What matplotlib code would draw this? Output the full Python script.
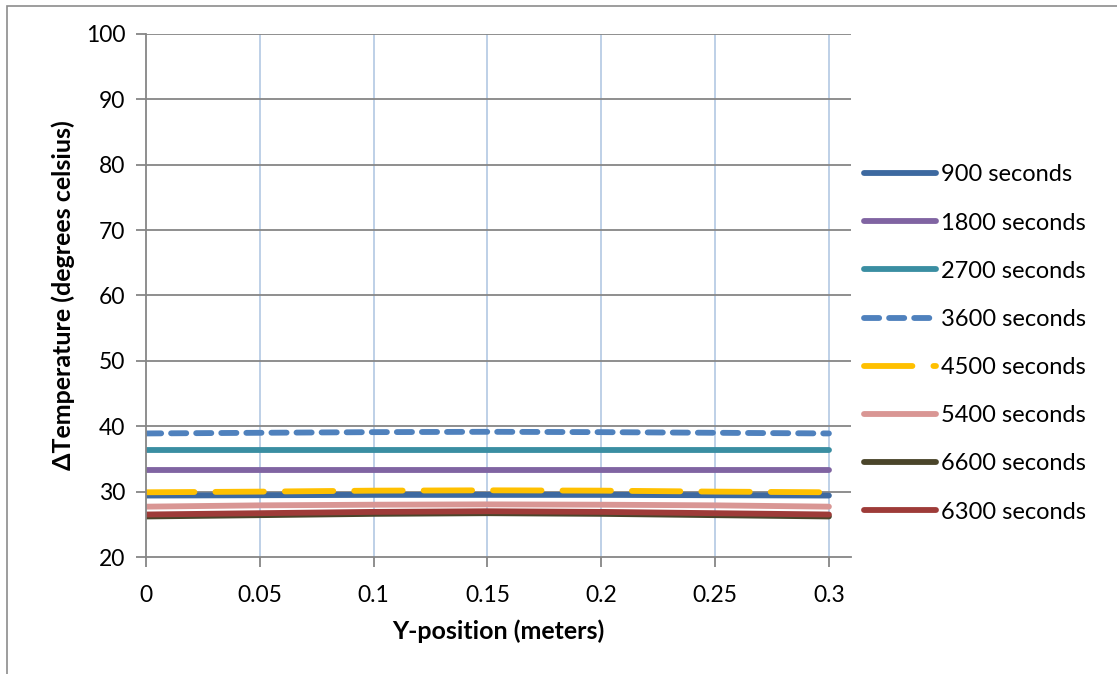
import matplotlib
matplotlib.use("Agg")
import matplotlib.pyplot as plt
from matplotlib.patches import Rectangle

plt.rcParams["font.family"] = ["Lato", "DejaVu Sans"]

# -----------------------------
# Data
# -----------------------------
y_position = [0.0, 0.05, 0.10, 0.15, 0.20, 0.25, 0.30]

temp_900 = [29.4, 29.45, 29.5, 29.5, 29.5, 29.45, 29.4]
temp_1800 = [33.3, 33.3, 33.3, 33.3, 33.3, 33.3, 33.3]
temp_2700 = [36.3, 36.3, 36.3, 36.3, 36.3, 36.3, 36.3]
temp_3600 = [38.9, 39.0, 39.1, 39.15, 39.1, 39.0, 38.9]
temp_4500 = [29.9, 30.0, 30.15, 30.2, 30.15, 30.0, 29.9]
temp_5400 = [27.7, 27.9, 28.0, 28.05, 28.0, 27.9, 27.7]
temp_6600 = [26.2, 26.4, 26.6, 26.7, 26.6, 26.4, 26.2]
temp_6300 = [26.5, 26.7, 26.9, 27.0, 26.9, 26.7, 26.5]

labels = ["900 seconds", "1800 seconds", "2700 seconds", "3600 seconds",
          "4500 seconds", "5400 seconds", "6600 seconds", "6300 seconds"]
series = [temp_900, temp_1800, temp_2700, temp_3600,
          temp_4500, temp_5400, temp_6600, temp_6300]
colors = ["#3D69A0", "#8064A2", "#3A8EA2", "#4F81BD",
          "#FFC000", "#D99694", "#4A452A", "#9E3B38"]
dashes = [None, None, None, (2.6, 1.7), (8.3, 3.6), None, None, None]

x_ticks = [0, 0.05, 0.1, 0.15, 0.2, 0.25, 0.3]
x_tick_labels = ["0", "0.05", "0.1", "0.15", "0.2", "0.25", "0.3"]
y_ticks = [20, 30, 40, 50, 60, 70, 80, 90, 100]

# -----------------------------
# Figure
# -----------------------------
fig = plt.figure(figsize=(11.17, 6.74), dpi=100)
ax = fig.add_axes([146 / 1117, 1 - 557 / 674, (851 - 146) / 1117, (557 - 34) / 674])

# outer chart frame (cropped on the right and bottom)
fig.patches.append(Rectangle((6.5 / 1117, -0.1), 1.2, 1 - 5.5 / 674 + 0.1,
                             transform=fig.transFigure, fill=False,
                             edgecolor="#8c8c8c", linewidth=1.2))

for vals, lab, col, ds in zip(series, labels, colors, dashes):
    line, = ax.plot(y_position, vals, color=col, linewidth=4.2, label=lab,
                    solid_capstyle="round", dash_capstyle="round")
    if ds is not None:
        line.set_dashes(ds)

ax.set_xlim(0, 0.3097)
ax.set_ylim(20, 100)
ax.set_xticks(x_ticks)
ax.set_xticklabels(x_tick_labels)
ax.set_yticks(y_ticks)

# gridlines: light blue verticals, grey horizontals
for xv in x_ticks[1:]:
    ax.axvline(xv, color="#B9CDE5", linewidth=1.3, zorder=0)
for yv in y_ticks[1:]:
    ax.axhline(yv, color="#868686", linewidth=1.3, zorder=0)

for side in ["top", "right"]:
    ax.spines[side].set_visible(False)
for side in ["left", "bottom"]:
    ax.spines[side].set_color("#868686")
    ax.spines[side].set_linewidth(1.3)

ax.tick_params(axis="both", colors="#868686", length=7, width=1.3,
               labelsize=16.5, labelcolor="black", direction="out")
ax.tick_params(axis="x", pad=13)
ax.tick_params(axis="y", pad=8)

ax.set_xlabel("Y-position (meters)", fontsize=18, fontweight="bold", labelpad=10)
ax.set_ylabel("\u0394Temperature (degrees celsius)", fontsize=18,
              fontweight="bold", labelpad=8)

leg = ax.legend(loc="upper left", bbox_to_anchor=(855 / 1117, 1 - 155 / 674),
                bbox_transform=fig.transFigure, frameon=False, fontsize=17,
                handlelength=3.05, handletextpad=0.2, labelspacing=1.15,
                borderaxespad=0)

plt.savefig("out.png", dpi=100)
plt.close()
